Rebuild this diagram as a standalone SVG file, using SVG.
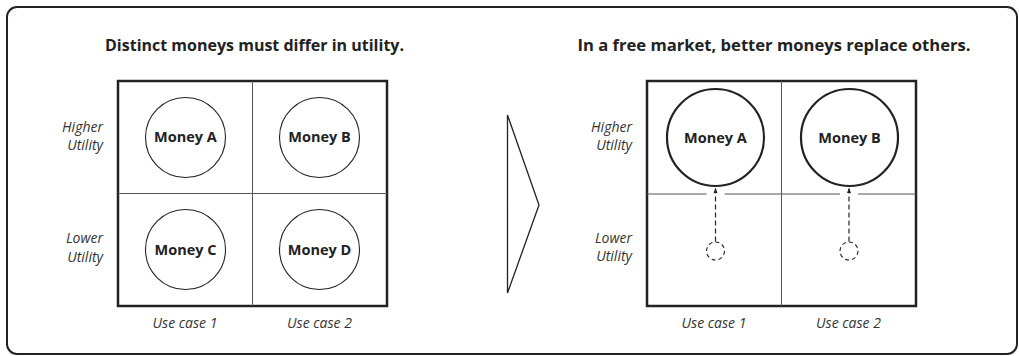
<svg xmlns="http://www.w3.org/2000/svg" width="1019" height="356" viewBox="0 0 1019 356">
  <style>
    .frame { fill: none; stroke: #222; stroke-width: 2; }
    .grid-outer { fill: #fff; stroke: #222; stroke-width: 2.5; }
    .grid-inner { stroke: #555; stroke-width: 1; fill: none; }
    .c-thin { fill: #fff; stroke: #222; stroke-width: 1.1; }
    .c-thick { fill: #fff; stroke: #222; stroke-width: 2.2; }
    .c-dash { fill: none; stroke: #222; stroke-width: 1.1; stroke-dasharray: 4 3; }
    .title { font-family: "Open Sans", "Liberation Sans", sans-serif; font-weight: 700; font-size: 16px; fill: #222; text-anchor: middle; }
    .money { font-family: "Open Sans", "Liberation Sans", sans-serif; font-weight: 700; font-size: 14.5px; fill: #222; text-anchor: middle; }
    .axis { font-family: "Open Sans", "Liberation Sans", sans-serif; font-style: italic; font-size: 14px; fill: #333; }
    .axis-r { text-anchor: end; }
    .axis-c { text-anchor: middle; }
    .conn { stroke: #222; stroke-width: 1.2; stroke-dasharray: 5 3; fill: none; }
  </style>
  <defs>
    <marker id="ah" viewBox="0 0 10 10" refX="10" refY="5" markerWidth="5" markerHeight="5" orient="auto" markerUnits="userSpaceOnUse">
      <path d="M0,1 L10,5 L0,9 Z" fill="#222"/>
    </marker>
  </defs>
  <rect width="1019" height="356" fill="#fff"/>
  <rect class="frame" x="7" y="7" width="1010" height="347" rx="10" ry="10"/>

  <!-- Left panel -->
  <g id="left-panel">
    <text class="title" x="254.5" y="51">Distinct moneys must differ in utility.</text>
    <rect class="grid-outer" x="118" y="81" width="269" height="225"/>
    <line class="grid-inner" x1="252.5" y1="81" x2="252.5" y2="306"/>
    <line class="grid-inner" x1="118" y1="193.5" x2="387" y2="193.5"/>
    <text class="axis axis-r" x="103" y="132">Higher</text>
    <text class="axis axis-r" x="103" y="150">Utility</text>
    <text class="axis axis-r" x="103" y="243">Lower</text>
    <text class="axis axis-r" x="103" y="262">Utility</text>
    <text class="axis axis-c" x="185" y="328">Use case 1</text>
    <text class="axis axis-c" x="319.5" y="328">Use case 2</text>
  </g>
  <g id="left-money-a">
    <circle class="c-thin" cx="185.5" cy="137.5" r="40"/>
    <text class="money" x="185.5" y="141.5">Money A</text>
  </g>
  <g id="left-money-b">
    <circle class="c-thin" cx="319.5" cy="137.5" r="40"/>
    <text class="money" x="319.5" y="141.5">Money B</text>
  </g>
  <g id="left-money-c">
    <circle class="c-thin" cx="185.5" cy="249.5" r="40"/>
    <text class="money" x="185.5" y="255">Money C</text>
  </g>
  <g id="left-money-d">
    <circle class="c-thin" cx="319.5" cy="249.5" r="40"/>
    <text class="money" x="319.5" y="255">Money D</text>
  </g>

  <!-- Transition arrow -->
  <g id="transition-arrow">
    <path d="M507.5,115 L539,205 L507.5,293 Z" fill="#fff" stroke="#222" stroke-width="1.3" stroke-linejoin="miter"/>
  </g>

  <!-- Right panel -->
  <g id="right-panel">
    <text class="title" x="774" y="51" style="font-size:16.6px">In a free market, better moneys replace others.</text>
    <rect class="grid-outer" x="647" y="81" width="269" height="225"/>
    <line class="grid-inner" x1="781.5" y1="81" x2="781.5" y2="306"/>
    <line class="grid-inner" x1="647" y1="194" x2="706.5" y2="194"/>
    <line class="grid-inner" x1="724.5" y1="194" x2="840" y2="194"/>
    <line class="grid-inner" x1="858" y1="194" x2="916" y2="194"/>
    <text class="axis axis-r" x="632" y="132">Higher</text>
    <text class="axis axis-r" x="632" y="150">Utility</text>
    <text class="axis axis-r" x="632" y="243">Lower</text>
    <text class="axis axis-r" x="632" y="261">Utility</text>
    <text class="axis axis-c" x="714" y="328">Use case 1</text>
    <text class="axis axis-c" x="848.5" y="328">Use case 2</text>
  </g>
  <g id="right-money-a">
    <circle class="c-thick" cx="715.5" cy="137.5" r="48.5"/>
    <text class="money" x="715.5" y="143">Money A</text>
  </g>
  <g id="right-money-b">
    <circle class="c-thick" cx="849.5" cy="137.5" r="48.5"/>
    <text class="money" x="849.5" y="143">Money B</text>
  </g>
  <g id="right-ghost-c">
    <circle class="c-dash" cx="715.5" cy="251" r="9"/>
  </g>
  <g id="right-ghost-d">
    <circle class="c-dash" cx="849" cy="251" r="9"/>
  </g>

  <g id="connectors">
    <line class="conn" x1="715.5" y1="241.5" x2="715.5" y2="188" marker-end="url(#ah)"/>
    <line class="conn" x1="849" y1="241.5" x2="849" y2="188" marker-end="url(#ah)"/>
  </g>
</svg>
